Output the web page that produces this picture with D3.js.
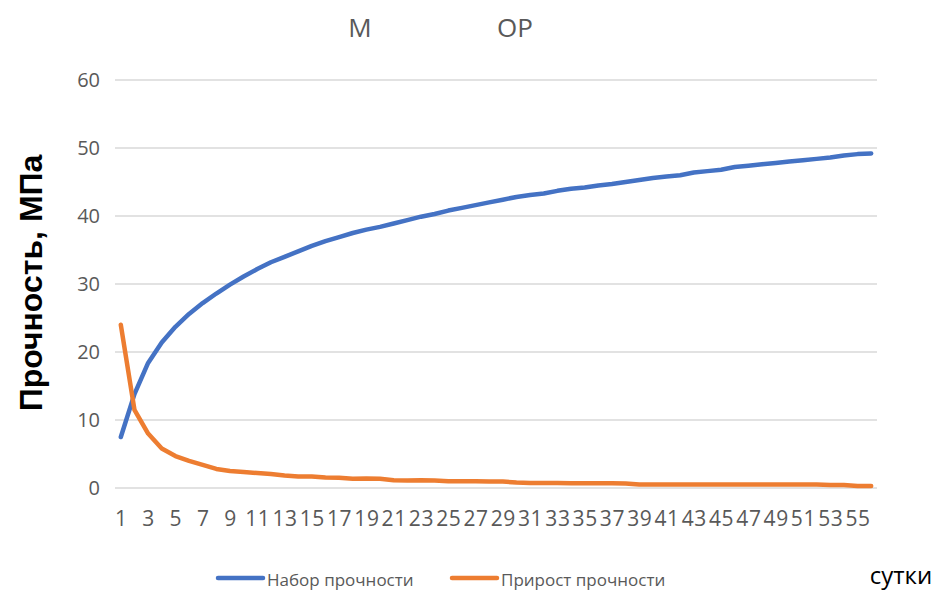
<!DOCTYPE html>
<html>
<head>
<meta charset="utf-8">
<script src="https://cdn.jsdelivr.net/npm/d3@7"></script>
<style>
  html, body { margin: 0; padding: 0; background: #fff; overflow: hidden; }
  svg { display: block; }
</style>
</head>
<body>
<svg id="chart" width="938" height="590"></svg>
<script>
// Days of curing
const days = d3.range(1, 57);

// Strength gain, MPa
const strengthTotal = [
  7.5, 13.8, 18.4, 21.4, 23.7, 25.6, 27.2, 28.6, 29.9, 31.1,
  32.2, 33.2, 34.0, 34.8, 35.6, 36.3, 36.9, 37.5, 38.0, 38.4,
  38.9, 39.4, 39.9, 40.3, 40.8, 41.2, 41.6, 42.0, 42.4, 42.8,
  43.1, 43.3, 43.7, 44.0, 44.2, 44.5, 44.7, 45.0, 45.3, 45.6,
  45.8, 46.0, 46.4, 46.6, 46.8, 47.2, 47.4, 47.6, 47.8, 48.0,
  48.2, 48.4, 48.6, 48.9, 49.1, 49.2
];

// Daily increment, MPa
const strengthIncrement = [
  24.0, 11.5, 8.0, 5.8, 4.7, 4.0, 3.4, 2.8, 2.5, 2.35,
  2.2, 2.05, 1.85, 1.7, 1.7, 1.55, 1.5, 1.35, 1.4, 1.35,
  1.15, 1.1, 1.15, 1.1, 1.0, 1.0, 1.0, 0.95, 0.95, 0.8,
  0.75, 0.75, 0.75, 0.7, 0.7, 0.7, 0.7, 0.65, 0.5, 0.5,
  0.5, 0.5, 0.5, 0.5, 0.5, 0.5, 0.5, 0.5, 0.5, 0.5,
  0.5, 0.5, 0.45, 0.45, 0.3, 0.3
];

const yTicks = [0, 10, 20, 30, 40, 50, 60];
const seriesNames = ["Набор прочности", "Прирост прочности"];
const seriesColors = ["#4472c4", "#ed7d31"];

const svg = d3.select("#chart");
const labelFont = "'Open Sans', 'Noto Sans', sans-serif";

const plot = { left: 115, right: 877, top: 80, bottom: 488 };

const x = d3.scalePoint()
  .domain(days)
  .range([114, 878])
  .padding(0.5);

const y = d3.scaleLinear()
  .domain([0, 60])
  .range([plot.bottom, plot.top]);

// Horizontal gridlines
svg.append("g")
  .selectAll("line")
  .data(yTicks)
  .join("line")
  .attr("x1", plot.left)
  .attr("x2", plot.right)
  .attr("y1", d => y(d))
  .attr("y2", d => y(d))
  .attr("stroke", "#d9d9d9")
  .attr("stroke-width", 1.6);

// Y axis labels
const yAxis = d3.axisLeft(y).tickValues(yTicks).tickSize(0).tickPadding(0);
const gy = svg.append("g").attr("transform", "translate(100,0)").call(yAxis);
gy.select(".domain").remove();
gy.selectAll("text")
  .attr("font-family", labelFont)
  .attr("font-size", 20)
  .attr("fill", "#595959");

// X axis labels (odd days)
const xAxis = d3.axisBottom(x)
  .tickValues(days.filter(d => d % 2 === 1))
  .tickSize(0)
  .tickPadding(0);
const gx = svg.append("g").attr("transform", "translate(0,511)").call(xAxis);
gx.select(".domain").remove();
gx.selectAll("text")
  .attr("font-family", labelFont)
  .attr("font-size", 21)
  .attr("fill", "#595959")
  .attr("dy", "0.71em")
  .style("letter-spacing", "0.6px");

// Lines
const line = d3.line()
  .x((d, i) => x(days[i]))
  .y(d => y(d));

[strengthTotal, strengthIncrement].forEach((series, k) => {
  svg.append("path")
    .datum(series)
    .attr("fill", "none")
    .attr("stroke", seriesColors[k])
    .attr("stroke-width", 4.5)
    .attr("stroke-linecap", "round")
    .attr("stroke-linejoin", "round")
    .attr("d", line);
});

// Title
svg.append("text")
  .attr("x", 360).attr("y", 37)
  .attr("text-anchor", "middle")
  .attr("font-family", labelFont)
  .attr("font-size", 26)
  .attr("fill", "#595959")
  .text("М");
svg.append("text")
  .attr("x", 515).attr("y", 37)
  .attr("text-anchor", "middle")
  .attr("font-family", labelFont)
  .attr("font-size", 26)
  .attr("fill", "#595959")
  .text("ОР");

// Y axis title
svg.append("text")
  .attr("transform", "translate(42,283) rotate(-90)")
  .attr("text-anchor", "middle")
  .attr("font-family", "'Liberation Sans', Arial, sans-serif")
  .attr("font-weight", "bold")
  .attr("font-size", 32)
  .attr("fill", "#000")
  .text("Прочность, МПа");

// X axis title
svg.append("text")
  .attr("x", 901).attr("y", 584)
  .attr("text-anchor", "middle")
  .attr("font-family", labelFont)
  .attr("font-size", 24)
  .attr("fill", "#000")
  .text("сутки");

// Legend
const legendX = [218, 452];
const legend = svg.append("g");
seriesNames.forEach((name, k) => {
  legend.append("line")
    .attr("x1", legendX[k]).attr("x2", legendX[k] + 45)
    .attr("y1", 578).attr("y2", 578)
    .attr("stroke", seriesColors[k])
    .attr("stroke-width", 4.5)
    .attr("stroke-linecap", "round");
  legend.append("text")
    .attr("x", legendX[k] + 49).attr("y", 586)
    .attr("font-family", labelFont)
    .attr("font-size", 17)
    .attr("fill", "#595959")
    .text(name);
});
</script>
</body>
</html>
